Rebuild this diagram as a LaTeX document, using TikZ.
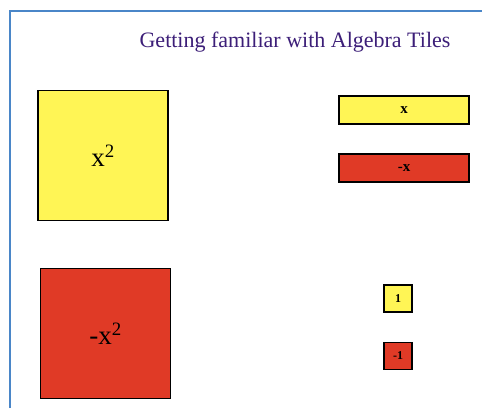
\documentclass[tikz,border=0pt]{standalone}
\usepackage{fontspec}
\setmainfont{Liberation Serif}
\usetikzlibrary{positioning}
\definecolor{tileyellow}{RGB}{255,245,85}
\definecolor{tilered}{RGB}{224,58,38}
\definecolor{frameblue}{RGB}{74,134,200}
\definecolor{titlepurple}{RGB}{60,30,120}
\tikzstyle{tile} = [rectangle, 
inner sep=0pt, 
draw=black, 
line width=1.8pt]
\tikzstyle{postile} = [tile, fill=tileyellow]
\tikzstyle{negtile} = [tile, fill=tilered]
\tikzstyle{bigtile} = [minimum width=130pt, minimum height=130pt, font=\fontsize{27}{30}\selectfont]
\tikzstyle{bartile} = [minimum width=130pt, minimum height=28pt, font=\fontsize{15}{17}\selectfont\bfseries]
\tikzstyle{unittile} = [minimum width=28pt, minimum height=27pt, font=\fontsize{12}{14}\selectfont\bfseries]

\begin{document}
\begin{tikzpicture}[x=1pt, y=1pt]
		
		% canvas
		\useasboundingbox (0,0) rectangle (482,408);
		\fill[white] (0,0) rectangle (482,408);
		\draw[frameblue, line width=2.5pt] (10,0) -- (10,397) -- (482,397);
		
		\node[text=titlepurple, font=\fontsize{22}{26}\selectfont] (title) at (295,366) {Getting familiar with Algebra Tiles};
		
		% x^2 tiles
		\node[postile, bigtile] (xsq) at (103,252.5) {x\textsuperscript{2}};
		\node[negtile, bigtile] (nxsq) at (105.5,74.5) {-x\textsuperscript{2}};
		
		% x tiles
		\node[postile, bartile] (x) at (404,298) {x};
		\node[negtile, bartile] (nx) at (404,240) {-x};
		
		% unit tiles
		\node[postile, unittile] (one) at (398,109.5) {1};
		\node[negtile, unittile] (none) at (398,52) {-1};
		
	\end{tikzpicture}
\end{document}
